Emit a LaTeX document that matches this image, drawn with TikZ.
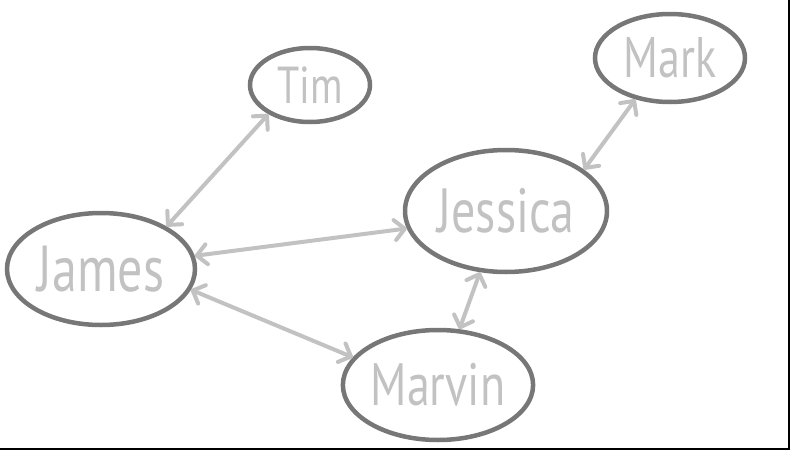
\documentclass[tikz,border=0pt]{standalone}
\usepackage{fontspec}
\setmainfont{PT Sans}
\usetikzlibrary{shapes.geometric,arrows.meta}
\definecolor{ringgray}{HTML}{777777}
\definecolor{lightgray}{HTML}{C2C2C2}
\tikzset{
  person/.style={ellipse, draw=ringgray, line width=4.5pt, inner sep=0pt, text=lightgray},
  link/.style={draw=lightgray, line width=4pt, line cap=round,
    {Straight Barb[length=10pt,width=20pt,line width=4pt,round]}-{Straight Barb[length=10pt,width=20pt,line width=4pt,round]}}
}
\newcommand{\hand}[2]{\fontsize{#1}{#1}\selectfont\scalebox{1}[1.3]{#2}}
\begin{document}
\begin{tikzpicture}[x=1pt,y=-1pt]
\useasboundingbox (0,0) rectangle (790,450);
\node[person, minimum width=120pt, minimum height=74pt] (tim) at (310,85) {\hand{40pt}{Tim}};
\node[person, minimum width=150pt, minimum height=88pt] (mark) at (670,58) {\hand{44pt}{Mark}};
\node[person, minimum width=202pt, minimum height=122pt] (jessica) at (506,211) {\hand{48pt}{Jessica}};
\node[person, minimum width=188pt, minimum height=112pt] (james) at (101,269) {\hand{50pt}{James}};
\node[person, minimum width=190pt, minimum height=110pt] (marvin) at (438,385) {\hand{46pt}{Marvin}};
\draw[link] (tim.215) -- (james.33);
\draw[link] (james.8) -- (jessica.190);
\draw[link] (james.-13) -- (marvin.162);
\draw[link] (jessica.247) -- (marvin.69);
\draw[link] (jessica.28) -- (mark.230);
\coordinate (br) at (789,449);
\coordinate (tr) at (789,0);
\coordinate (bl) at (0,449);
\draw[black, line width=2pt] (tr) -- (br) -- (bl);
\end{tikzpicture}
\end{document}
